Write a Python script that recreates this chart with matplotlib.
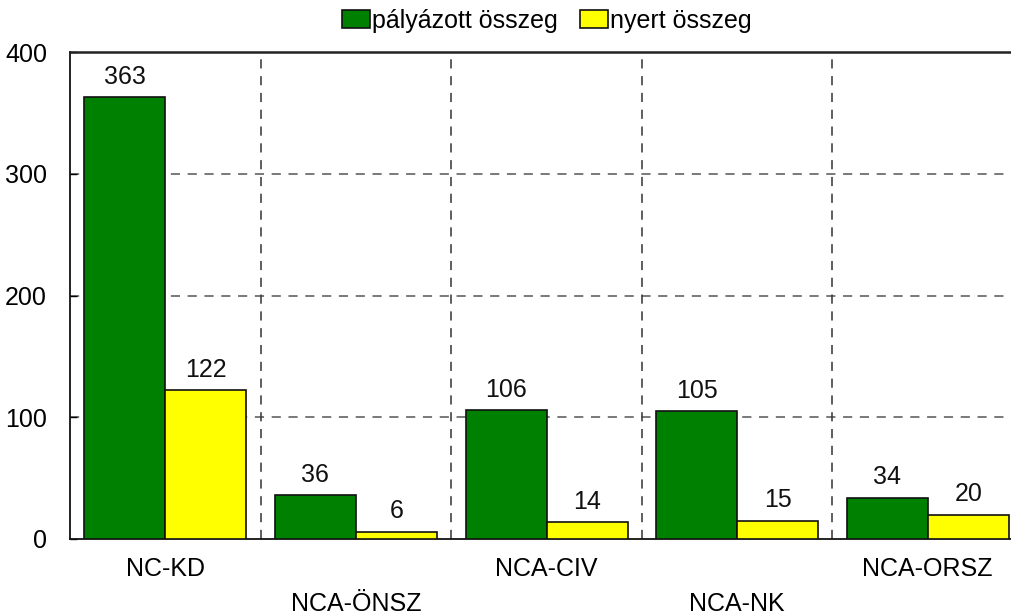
import matplotlib
matplotlib.use("Agg")
import matplotlib.pyplot as plt
from matplotlib import font_manager
import numpy as np

categories = ["NC-KD", "NCA-ÖNSZ", "NCA-CIV", "NCA-NK", "NCA-ORSZ"]
palyazott = [363, 36, 106, 105, 34]
nyert = [122, 6, 14, 15, 20]
series_names = ["pályázott összeg", "nyert összeg"]
yticks = [0, 100, 200, 300, 400]

names = {f.name for f in font_manager.fontManager.ttflist}
fam = "Liberation Sans Narrow" if "Liberation Sans Narrow" in names else "Liberation Sans"
plt.rcParams['font.family'] = [fam, 'DejaVu Sans']
fs = 19 if fam == "Liberation Sans Narrow" else 18

W, H = 1011, 615
fig = plt.figure(figsize=(W / 100, H / 100), dpi=100)
left, right, top, bottom = 70, 1023, 52, 539
ax = fig.add_axes([left / W, 1 - bottom / H, (right - left) / W, (bottom - top) / H])

x = np.arange(len(categories))
bw = 81 / 190.6
b1 = ax.bar(x - bw / 2, palyazott, bw, color="#008000", edgecolor="#111111", linewidth=1.2,
            label=series_names[0], zorder=3)
b2 = ax.bar(x + bw / 2, nyert, bw, color="#FFFF00", edgecolor="#111111", linewidth=1.2,
            label=series_names[1], zorder=3)

for bars, vals in ((b1, palyazott), (b2, nyert)):
    for r, v in zip(bars, vals):
        ax.annotate(str(v), (r.get_x() + r.get_width() / 2, v), xytext=(0, 6),
                    textcoords="offset points", ha="center", va="bottom", fontsize=fs,
                    color="#111111")

ax.set_xlim(-0.5, len(categories) - 0.5)
ax.set_ylim(0, 400)
ax.set_yticks(yticks)
ax.set_yticklabels([str(t) for t in yticks], fontsize=fs)
ax.tick_params(axis="y", length=5, width=1, pad=16.5, direction="in")
ax.set_xticks(x)
ax.set_xticklabels([])
ax.tick_params(axis="x", length=0)
for i, c in enumerate(categories):
    ax.annotate(c, (i, 0), xytext=(0, -13 if i % 2 == 0 else -38), textcoords="offset points",
                ha="center", va="top", fontsize=fs, annotation_clip=False)

# gridlines
for yv in yticks[1:-1]:
    ax.axhline(yv, color="#555555", linestyle=(0, (6, 5)), linewidth=1.1, zorder=1)
for xb in np.arange(0.5, len(categories) - 0.5, 1):
    ax.axvline(xb, color="#333333", linestyle=(0, (6, 5)), linewidth=1.1, zorder=1)

for s in ["left", "bottom"]:
    ax.spines[s].set_color("#111111")
    ax.spines[s].set_linewidth(1.3)
ax.spines["top"].set_color("#222222")
ax.spines["top"].set_linewidth(1.8)
ax.spines["right"].set_visible(False)

leg = fig.legend(handles=[b1, b2], labels=series_names, loc="center",
                 bbox_to_anchor=(547 / W, 1 - 21 / H), ncol=2, frameon=False,
                 fontsize=fs, handlelength=1.1, handleheight=0.75, handletextpad=0.1,
                 columnspacing=0.9, borderaxespad=0)

fig.savefig("out.png", dpi=100)
